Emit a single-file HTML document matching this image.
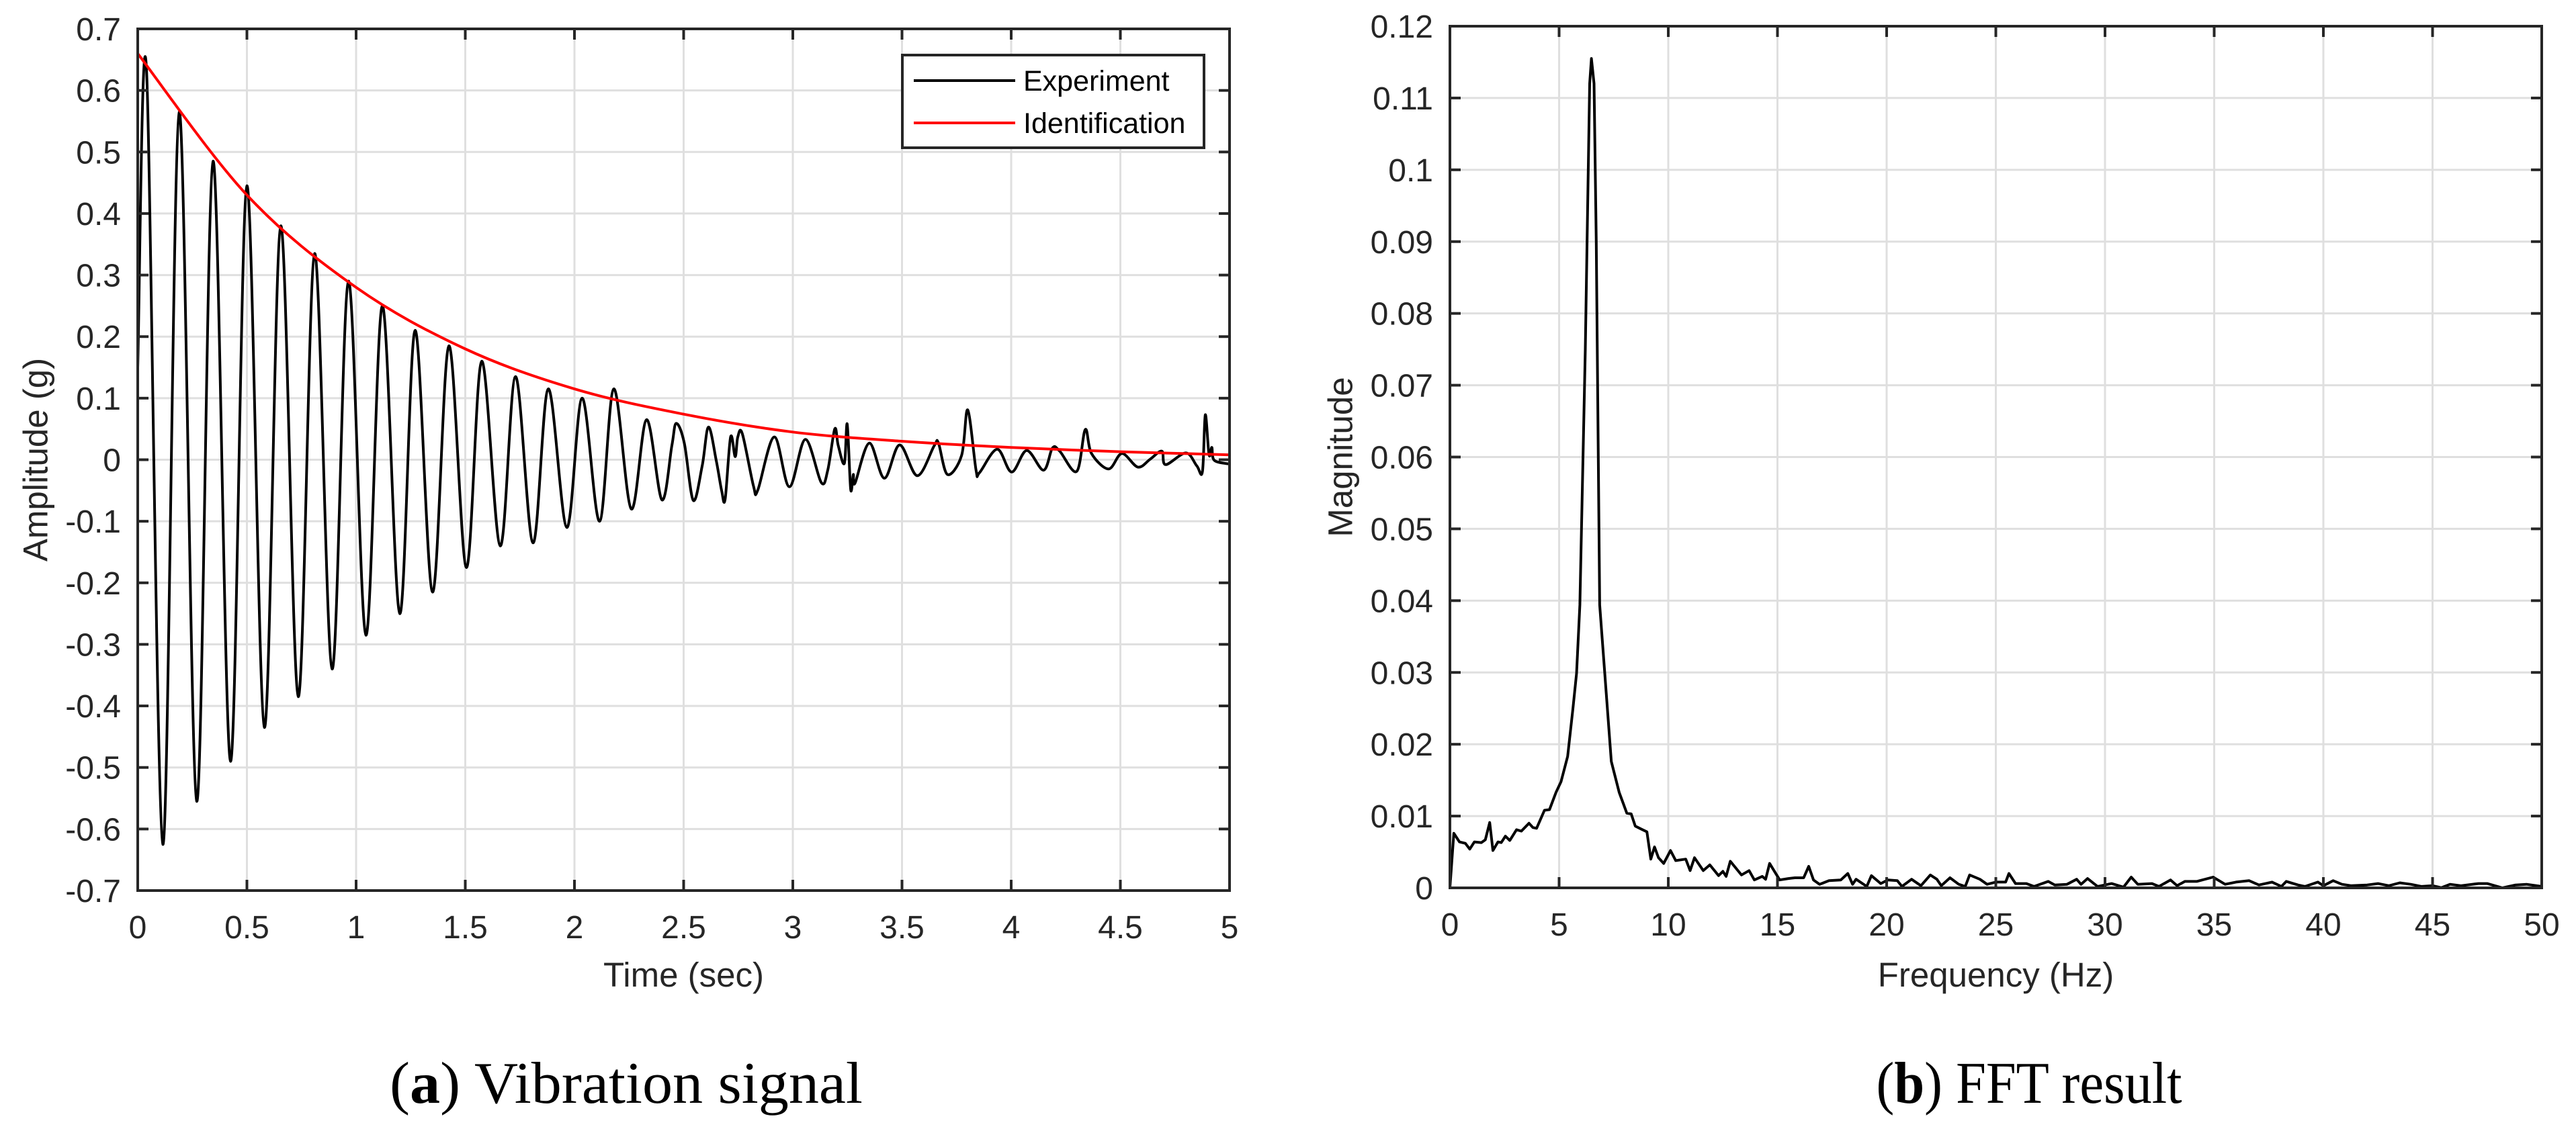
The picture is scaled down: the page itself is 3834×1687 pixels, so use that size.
<!DOCTYPE html>
<html><head><meta charset="utf-8"><style>
html,body{margin:0;padding:0;background:#fff;}
svg{display:block;}
</style></head><body>
<svg id="fig" width="3834" height="1687" viewBox="0 0 3834 1687" xmlns="http://www.w3.org/2000/svg">
<rect width="3834" height="1687" fill="#fff"/>
<g id="left"></g>
<g id="right"></g>
<text x="932" y="1642" font-family="Liberation Serif, serif" font-size="88" text-anchor="middle" textLength="704" lengthAdjust="spacingAndGlyphs" fill="#000">(<tspan font-weight="bold">a</tspan>) Vibration signal</text>
<text x="3020" y="1642" font-family="Liberation Serif, serif" font-size="88" text-anchor="middle" textLength="455" lengthAdjust="spacingAndGlyphs" fill="#000">(<tspan font-weight="bold">b</tspan>) FFT result</text>
</svg>
<script>
// ---- Vibration signal data ----
const sigT = [0,0.04,0.115,0.19,0.27,0.345,0.425,0.5,0.58,0.655,0.735,0.81,0.89,0.965,1.045,1.12,1.2,1.27,1.35,1.425,1.505,1.575,1.66,1.73,1.81,1.88,1.965,2.035,2.115,2.18,2.26,2.33,2.40,2.446,2.466,2.503,2.544,2.585,2.614,2.65,2.674,2.69,2.715,2.736,2.748,2.769,2.82,2.84,2.915,2.984,3.057,3.13,3.16,3.192,3.208,3.236,3.249,3.265,3.277,3.285,3.35,3.419,3.489,3.57,3.648,3.667,3.708,3.773,3.801,3.839,3.855,3.936,4.002,4.071,4.148,4.189,4.222,4.3,4.339,4.368,4.446,4.507,4.58,4.637,4.69,4.707,4.8,4.85,4.876,4.889,4.906,4.919,4.93,5.0];
const sigV = [0.15,0.635,-0.625,0.565,-0.555,0.485,-0.49,0.445,-0.435,0.38,-0.385,0.335,-0.34,0.29,-0.285,0.25,-0.25,0.21,-0.215,0.185,-0.175,0.16,-0.14,0.135,-0.135,0.115,-0.11,0.1,-0.1,0.115,-0.08,0.065,-0.065,0.023,0.059,0.027,-0.066,-0.01,0.053,-0.003,-0.05,-0.064,0.037,0.005,0.037,0.042,-0.043,-0.049,0.037,-0.044,0.033,-0.037,-0.017,0.05,0.023,-0.006,0.058,-0.048,-0.024,-0.038,0.027,-0.03,0.024,-0.026,0.023,0.027,-0.024,0.007,0.081,-0.017,-0.021,0.017,-0.02,0.015,-0.017,0.019,0.014,-0.019,0.049,0.01,-0.015,0.01,-0.012,0.001,0.014,-0.008,0.011,-0.01,-0.019,0.073,0.008,0.02,-0.001,-0.007];
const idT = [0,0.5,1,1.5,2,2.5,3,3.5,4,4.5,5];
const idV = [0.66,0.43,0.28,0.18,0.115,0.074,0.045,0.03,0.02,0.013,0.008];
const lxTicks = [0,0.5,1,1.5,2,2.5,3,3.5,4,4.5,5];
const lxLabels = ["0","0.5","1","1.5","2","2.5","3","3.5","4","4.5","5"];
const lyTicks = [-0.7,-0.6,-0.5,-0.4,-0.3,-0.2,-0.1,0,0.1,0.2,0.3,0.4,0.5,0.6,0.7];
const lyLabels = ["-0.7","-0.6","-0.5","-0.4","-0.3","-0.2","-0.1","0","0.1","0.2","0.3","0.4","0.5","0.6","0.7"];
// ---- FFT data ----
const fftF = [0,0.177,0.436,0.708,0.908,1.12,1.44,1.62,1.82,1.97,2.2,2.35,2.54,2.74,3.05,3.27,3.62,3.8,3.97,4.33,4.56,4.86,5.09,5.39,5.63,5.8,5.95,6.2,6.4,6.48,6.6,6.7,6.86,7.39,7.75,8.1,8.3,8.49,8.75,9.02,9.2,9.37,9.55,9.79,10.1,10.34,10.8,11.0,11.2,11.6,11.9,12.3,12.5,12.65,12.84,13.35,13.7,13.94,14.3,14.46,14.64,15.1,15.5,15.8,16.2,16.43,16.65,16.93,17.36,17.9,18.22,18.44,18.6,19.09,19.3,19.73,20.06,20.49,20.7,21.14,21.57,22.0,22.3,22.5,22.9,23.3,23.6,23.8,24.27,24.6,25.0,25.45,25.6,25.9,26.4,26.75,27.4,27.7,28.26,28.7,28.9,29.2,29.66,30.3,30.85,31.2,31.5,32.15,32.47,33.0,33.3,33.66,34.2,34.95,35.5,36.0,36.6,37.05,37.65,38.08,38.3,38.84,39.16,39.75,40.0,40.45,40.85,41.28,42,42.5,43,43.5,44,44.5,45,45.4,45.8,46.3,47.1,47.5,48.2,48.8,49.3,50];
const fftM = [0,0.0076,0.0064,0.0062,0.0054,0.0064,0.0063,0.0067,0.0091,0.0052,0.0064,0.0063,0.0072,0.0066,0.0081,0.0079,0.009,0.0084,0.0083,0.0108,0.0109,0.0133,0.0148,0.0183,0.0249,0.0299,0.0394,0.075,0.112,0.1155,0.112,0.09,0.0394,0.0176,0.0133,0.0104,0.0103,0.0086,0.0082,0.0078,0.004,0.0057,0.0042,0.0034,0.0052,0.0038,0.004,0.0024,0.0042,0.0024,0.0032,0.0017,0.0023,0.0016,0.0037,0.0018,0.0024,0.0011,0.0016,0.0012,0.0034,0.0011,0.0013,0.0014,0.0014,0.003,0.0011,0.0005,0.001,0.0011,0.002,0.0005,0.0012,0.0002,0.0017,0.0006,0.0011,0.001,0.0002,0.0012,0.0003,0.0018,0.0012,0.0003,0.0014,0.0005,0.0002,0.0018,0.0012,0.0005,0.0008,0.0008,0.002,0.0006,0.0006,0.0002,0.0009,0.0004,0.0005,0.0012,0.0005,0.0013,0.0002,0.0006,0.0001,0.0015,0.0005,0.0006,0.0002,0.0011,0.0003,0.0009,0.0009,0.0015,0.0005,0.0008,0.001,0.0004,0.0008,0.0002,0.0009,0.0004,0.0002,0.0008,0.0003,0.001,0.0005,0.0003,0.0004,0.0006,0.0003,0.0007,0.0005,0.0002,0.0003,0.00003,0.0005,0.0003,0.0006,0.0006,0,0.0004,0.0005,0.0002];
const rxTicks = [0,5,10,15,20,25,30,35,40,45,50];
const rxLabels = ["0","5","10","15","20","25","30","35","40","45","50"];
const ryTicks = [0,0.01,0.02,0.03,0.04,0.05,0.06,0.07,0.08,0.09,0.1,0.11,0.12];
const ryLabels = ["0","0.01","0.02","0.03","0.04","0.05","0.06","0.07","0.08","0.09","0.1","0.11","0.12"];

const NS = "http://www.w3.org/2000/svg";
function mk(parent, tag, attrs){const e=document.createElementNS(NS,tag);for(const k in attrs)e.setAttribute(k,attrs[k]);parent.appendChild(e);return e;}
function smooth(pts){let d="M"+pts[0][0].toFixed(1)+","+pts[0][1].toFixed(1);
 for(let i=0;i<pts.length-1;i++){const p0=pts[Math.max(i-1,0)],p1=pts[i],p2=pts[i+1],p3=pts[Math.min(i+2,pts.length-1)];
  const c1=[p1[0]+(p2[0]-p0[0])/6,p1[1]+(p2[1]-p0[1])/6],c2=[p2[0]-(p3[0]-p1[0])/6,p2[1]-(p3[1]-p1[1])/6];
  d+="C"+c1[0].toFixed(1)+","+c1[1].toFixed(1)+" "+c2[0].toFixed(1)+","+c2[1].toFixed(1)+" "+p2[0].toFixed(1)+","+p2[1].toFixed(1);}
 return d;}
function poly(pts){return "M"+pts.map(p=>p[0].toFixed(1)+","+p[1].toFixed(1)).join("L");}

function axes(g, L,T,R,B, xs, ys, xTicks,xLabels,yTicks,yLabels, xTitle, yTitle, yTitleX){
 for(let i=0;i<xTicks.length;i++){const x=xs(xTicks[i]);
  const gl=mk(g,"line",{x1:x,y1:T,x2:x,y2:B,stroke:"#dfdfdf","stroke-width":3});
  
  }
 for(let i=0;i<yTicks.length;i++){const y=ys(yTicks[i]);
  const gl=mk(g,"line",{x1:L,y1:y,x2:R,y2:y,stroke:"#dfdfdf","stroke-width":3});
  
  }
 return function finish(){
  const box=mk(g,"rect",{x:L,y:T,width:R-L,height:B-T,fill:"none",stroke:"#262626","stroke-width":4});
  
  
  for(let i=0;i<xTicks.length;i++){const x=xs(xTicks[i]);
   mk(g,"line",{x1:x,y1:B,x2:x,y2:B-16,stroke:"#262626","stroke-width":4});
   mk(g,"line",{x1:x,y1:T,x2:x,y2:T+16,stroke:"#262626","stroke-width":4});
   const t=mk(g,"text",{x:x,y:B+71,"text-anchor":"middle","font-family":"Liberation Sans, sans-serif","font-size":48,fill:"#262626"});
   t.textContent=xLabels[i];
   
   }
  for(let i=0;i<yTicks.length;i++){const y=ys(yTicks[i]);
   mk(g,"line",{x1:L,y1:y,x2:L+16,y2:y,stroke:"#262626","stroke-width":4});
   mk(g,"line",{x1:R,y1:y,x2:R-16,y2:y,stroke:"#262626","stroke-width":4});
   const t=mk(g,"text",{x:L-25,y:y+17,"text-anchor":"end","font-family":"Liberation Sans, sans-serif","font-size":48,fill:"#262626"});
   t.textContent=yLabels[i];
   
   }
  const xt=mk(g,"text",{x:(L+R)/2,y:1469,"text-anchor":"middle","font-family":"Liberation Sans, sans-serif","font-size":51,fill:"#262626"});
  xt.textContent=xTitle;
  
  
  const cy=(T+B)/2;
  const yt=mk(g,"text",{x:yTitleX,y:cy,"text-anchor":"middle","dominant-baseline":"central","font-family":"Liberation Sans, sans-serif","font-size":51,fill:"#262626",transform:"rotate(-90 "+yTitleX+" "+cy+")"});
  yt.textContent=yTitle;
  
  
 };
}

// Left chart
(function(){
 const g=document.getElementById("left");
 const L=205,T=43,R=1830,B=1326;
 const xs=v=>L+(v-0)/5*(R-L), ys=v=>B-(v+0.7)/1.4*(B-T);
 const fin=axes(g,L,T,R,B,xs,ys,lxTicks,lxLabels,lyTicks,lyLabels,"Time (sec)","Amplitude (g)",53);
 const cp=mk(g,"clipPath",{id:"clipL"});mk(cp,"rect",{x:L,y:T,width:R-L,height:B-T});
 const sp=sigT.map((t,i)=>[xs(t),ys(sigV[i])]);
 const s=mk(g,"path",{d:smooth(sp),fill:"none",stroke:"#000","stroke-width":4,"stroke-linejoin":"round","clip-path":"url(#clipL)"});
 
 
 const ip=idT.map((t,i)=>[xs(t),ys(idV[i])]);
 const r=mk(g,"path",{d:smooth(ip),fill:"none",stroke:"#ff0000","stroke-width":4,"clip-path":"url(#clipL)"});
 
 
 fin();
 const lg=mk(g,"g",{});
 
 
 mk(lg,"rect",{x:1343,y:82,width:449,height:138,fill:"#fff",stroke:"#262626","stroke-width":4});
 mk(lg,"line",{x1:1360,y1:120,x2:1511,y2:120,stroke:"#000","stroke-width":4});
 mk(lg,"line",{x1:1360,y1:183,x2:1511,y2:183,stroke:"#ff0000","stroke-width":4});
 const e1=mk(lg,"text",{x:1523,y:135,"font-family":"Liberation Sans, sans-serif","font-size":43,fill:"#000"});e1.textContent="Experiment";
 
 
 const e2=mk(lg,"text",{x:1523,y:198,"font-family":"Liberation Sans, sans-serif","font-size":43,fill:"#000"});e2.textContent="Identification";
 
 
})();

// Right chart
(function(){
 const g=document.getElementById("right");
 const L=2158,T=39,R=3783,B=1322;
 const xs=v=>L+v/50*(R-L), ys=v=>B-v/0.12*(B-T);
 const fin=axes(g,L,T,R,B,xs,ys,rxTicks,rxLabels,ryTicks,ryLabels,"Frequency (Hz)","Magnitude",1995);
 const pts=fftF.map((f,i)=>[xs(f),ys(fftM[i])]);
 const p=mk(g,"path",{d:poly(pts),fill:"none",stroke:"#000","stroke-width":4,"stroke-linejoin":"round"});
 
 
 fin();
})();
</script>
</body></html>
